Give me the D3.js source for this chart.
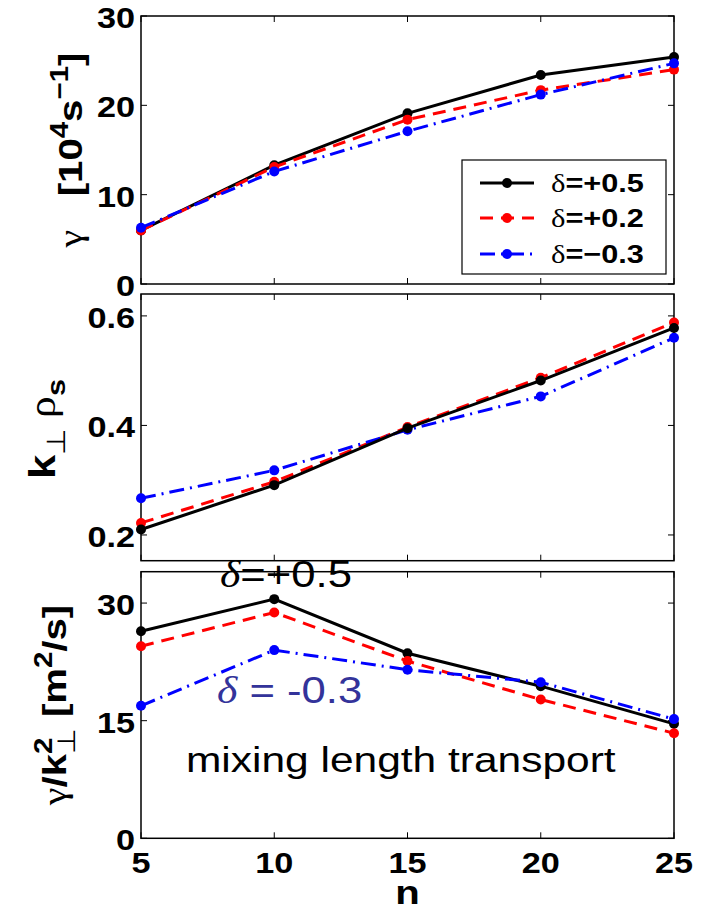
<!DOCTYPE html>
<html>
<head>
<meta charset="utf-8">
<script src="https://cdn.jsdelivr.net/npm/d3@7"></script>
<style>
  body { margin: 0; background: #fff; }
  text { font-family: "Liberation Sans", Arial, sans-serif; }
</style>
</head>
<body>
<div id="chart"></div>
<script>
//--data--//
var nValues = [5, 10, 15, 20, 25];
var seriesNames = ["δ=+0.5", "δ=+0.2", "δ=\u22120.3"];

// growth rate gamma [10^4 s^-1]
var gamma_p05 = [6.0, 13.3, 19.1, 23.4, 25.4];
var gamma_p02 = [6.0, 13.1, 18.4, 21.7, 24.0];
var gamma_m03 = [6.3, 12.6, 17.1, 21.2, 24.7];

// k_perp rho_s
var kperp_p05 = [0.210, 0.291, 0.395, 0.482, 0.578];
var kperp_p02 = [0.222, 0.297, 0.397, 0.487, 0.588];
var kperp_m03 = [0.267, 0.318, 0.392, 0.453, 0.560];

// gamma / k_perp^2 [m^2/s]
var diff_p05 = [26.4, 30.5, 23.6, 19.4, 14.6];
var diff_p02 = [24.5, 28.8, 22.6, 17.7, 13.4];
var diff_m03 = [16.9, 24.0, 21.5, 19.9, 15.2];

// tick labels
var xTicks = [5, 10, 15, 20, 25];
var gammaTicks = [0, 10, 20, 30];
var kperpTicks = [0.2, 0.4, 0.6];
var diffTicks = [0, 15, 30];

//--layout--//
var W = 702, H = 911;
var left = 141, right = 674;
var sx = 1.18; // the figure's fonts are a bit wide

var styles = [
  { color: "#000000", dash: null },
  { color: "#ff0000", dash: "13,8" },
  { color: "#0000ff", dash: "15,6,2,6" }
];

var svg = d3.select("#chart")
  .append("svg")
    .attr("width", W)
    .attr("height", H)
    .style("background", "#fff");

var x = d3.scaleLinear()
    .domain([5, 25])
    .range([left, right]);

// helper for horizontal text, slightly stretched
function hText(x0, y0, size, txt) {
  return svg.append("text")
    .attr("transform", "translate(" + x0 + "," + y0 + ") scale(" + sx + ",1)")
    .style("font-size", size + "px")
    .text(txt);
}

function drawPanel(top, bottom, domain, ticks, fmt, series, order) {
  var y = d3.scaleLinear()
      .domain(domain)
      .range([bottom, top]);

  var g = svg.append("g");

  // box
  g.append("rect")
    .attr("x", left).attr("y", top)
    .attr("width", right - left).attr("height", bottom - top)
    .style("fill", "none")
    .style("stroke", "#000")
    .style("stroke-width", 1.5);

  // inner ticks, all four sides
  var tl = 6;
  xTicks.forEach(function(t) {
    g.append("line").attr("x1", x(t)).attr("x2", x(t)).attr("y1", bottom).attr("y2", bottom - tl)
      .style("stroke", "#000").style("stroke-width", 1);
    g.append("line").attr("x1", x(t)).attr("x2", x(t)).attr("y1", top).attr("y2", top + tl)
      .style("stroke", "#000").style("stroke-width", 1);
  });
  ticks.forEach(function(t) {
    g.append("line").attr("x1", left).attr("x2", left + tl).attr("y1", y(t)).attr("y2", y(t))
      .style("stroke", "#000").style("stroke-width", 1);
    g.append("line").attr("x1", right).attr("x2", right - tl).attr("y1", y(t)).attr("y2", y(t))
      .style("stroke", "#000").style("stroke-width", 1);
    hText(135, y(t) + 12, 29, fmt(t))
      .attr("text-anchor", "end")
      .style("font-weight", "bold");
  });

  var line = d3.line()
    .x(function(d, i) { return x(nValues[i]); })
    .y(function(d) { return y(d); });

  order.forEach(function(k) {
    var st = styles[k];
    g.append("path")
      .datum(series[k])
      .attr("d", line)
      .style("fill", "none")
      .style("stroke", st.color)
      .style("stroke-width", 3)
      .style("stroke-dasharray", st.dash);
    g.append("g")
      .selectAll("dot")
      .data(series[k])
      .enter()
      .append("circle")
        .attr("cx", function(d, i) { return x(nValues[i]); })
        .attr("cy", function(d) { return y(d); })
        .attr("r", 5)
        .style("fill", st.color);
  });
  return y;
}

//--panel 1: gamma--//
drawPanel(16, 284, [0, 30], gammaTicks, d3.format("d"),
  [gamma_p05, gamma_p02, gamma_m03], [0, 1, 2]);

//--panel 2: k_perp rho_s--//
drawPanel(294, 560.7, [0.153, 0.64], kperpTicks, d3.format(".1f"),
  [kperp_p05, kperp_p02, kperp_m03], [1, 2, 0]);

//--panel 3: gamma/k^2--//
drawPanel(571.7, 838.3, [0, 34], diffTicks, d3.format("d"),
  [diff_p05, diff_p02, diff_m03], [0, 1, 2]);

// x tick labels
xTicks.forEach(function(t) {
  hText(x(t), 873, 29, t)
    .attr("text-anchor", "middle")
    .style("font-weight", "bold");
});
hText(407.5, 904, 34, "n")
  .attr("text-anchor", "middle")
  .style("font-weight", "bold");

//--y axis labels (rotated)--//
function yLabel(x0, y0, size) {
  return svg.append("text")
    .attr("transform", "translate(" + x0 + "," + y0 + ") rotate(-90) scale(" + sx + ",1)")
    .attr("text-anchor", "middle")
    .style("font-size", size + "px");
}

var yl1 = yLabel(82, 150, 34);
yl1.append("tspan").style("font-family", "Liberation Serif").text("γ");
yl1.append("tspan").style("font-weight", "bold").attr("xml:space", "preserve").text("   [10");
yl1.append("tspan").style("font-weight", "bold").style("font-size", "25px").attr("dy", -14).text("4");
yl1.append("tspan").style("font-weight", "bold").attr("dy", 14).text("s");
yl1.append("tspan").style("font-weight", "bold").style("font-size", "25px").attr("dy", -14).text("\u22121");
yl1.append("tspan").style("font-weight", "bold").attr("dy", 14).text("]");

var yl2 = yLabel(55, 429, 37);
yl2.append("tspan").style("font-weight", "bold").text("k");
yl2.append("tspan").style("font-size", "26px").attr("dy", 10).text("\u22a5");
yl2.append("tspan").style("font-family", "Liberation Serif").attr("dy", -10).text("  ρ");
yl2.append("tspan").style("font-weight", "bold").style("font-size", "26px").attr("dy", 10).text("s");

var yl3 = yLabel(66, 705, 34);
yl3.append("tspan").style("font-family", "Liberation Serif").text("γ");
yl3.append("tspan").style("font-weight", "bold").text("/k");
yl3.append("tspan").style("font-weight", "bold").style("font-size", "25px").attr("dy", -14).text("2");
yl3.append("tspan").style("font-size", "25px").attr("dx", -14).attr("dy", 23).text("\u22a5");
yl3.append("tspan").style("font-weight", "bold").attr("dy", -9).text("  [m");
yl3.append("tspan").style("font-weight", "bold").style("font-size", "25px").attr("dy", -14).text("2");
yl3.append("tspan").style("font-weight", "bold").attr("dy", 14).text("/s]");

//--legend--//
var lg = svg.append("g");
lg.append("rect")
  .attr("x", 462).attr("y", 160).attr("width", 204).attr("height", 114)
  .style("fill", "#fff").style("stroke", "#000").style("stroke-width", 1.2);
var rowY = [183, 218, 254];
seriesNames.forEach(function(name, i) {
  var st = styles[i];
  lg.append("line")
    .attr("x1", 480).attr("x2", 534).attr("y1", rowY[i]).attr("y2", rowY[i])
    .style("stroke", st.color).style("stroke-width", 3)
    .style("stroke-dasharray", st.dash);
  lg.append("circle").attr("cx", 507).attr("cy", rowY[i]).attr("r", 5).style("fill", st.color);
  var t = svg.append("text")
    .attr("transform", "translate(551," + (rowY[i] + 9) + ") scale(" + sx + ",1)")
    .style("font-size", "26px");
  t.append("tspan").style("font-family", "Liberation Serif").text(name.charAt(0));
  t.append("tspan").style("font-weight", "bold").text(name.slice(1));
});

//--annotations--//
var a1 = hText(220, 587, 37, "");
a1.append("tspan").style("font-family", "Liberation Serif").style("font-style", "italic").text("δ");
a1.append("tspan").text("=+0.5");

var a2 = hText(217, 703, 37, "").style("fill", "#33339a");
a2.append("tspan").style("font-family", "Liberation Serif").style("font-style", "italic").text("δ");
a2.append("tspan").attr("xml:space", "preserve").text(" = -0.3");

hText(186, 772, 36, "mixing length transport");
</script>
</body>
</html>
